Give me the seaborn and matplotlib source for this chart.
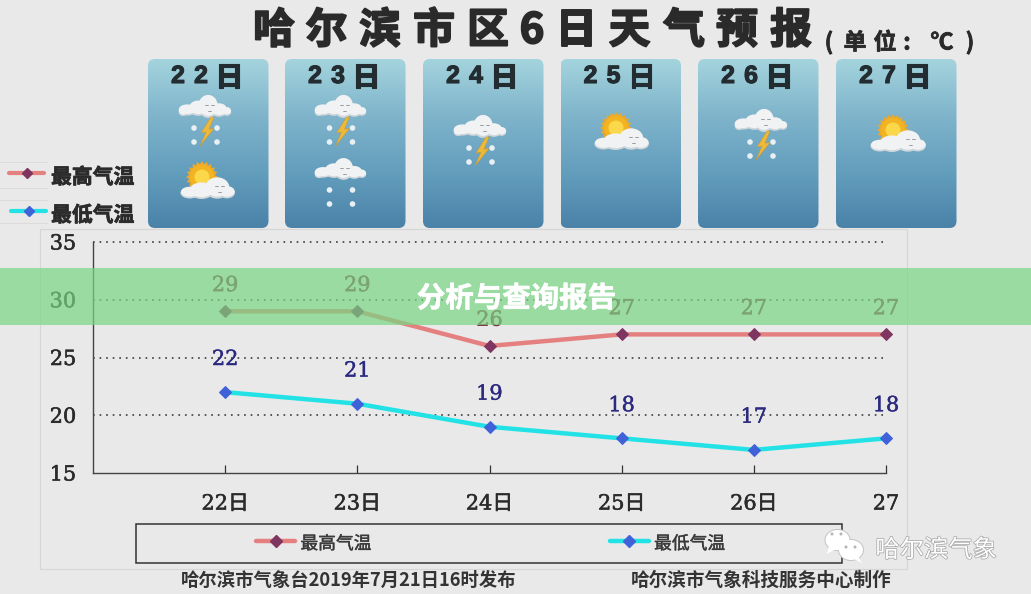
import numpy as np
import pandas as pd
import matplotlib
matplotlib.use("Agg")
import matplotlib.pyplot as plt
import seaborn as sns
from matplotlib.colors import LinearSegmentedColormap
from matplotlib.lines import Line2D
from matplotlib.patches import Circle, Ellipse, FancyBboxPatch, Polygon, Rectangle
import matplotlib.patheffects as pe

# Forecast values
day_labels = ["22日", "23日", "24日", "25日", "26日", "27"]
high_temps = [29, 29, 26, 27, 27, 27]
low_temps = [22, 21, 19, 18, 17, 18]
y_ticks = [15, 20, 25, 30, 35]
high_name = "最高气温"
low_name = "最低气温"
card_titles = ["22日", "23日", "24日", "25日", "26日", "27日"]

BG = "#e9e9e9"
HIGH_LINE, HIGH_MARK, HIGH_TEXT = "#e58080", "#7f3560", "#803040"
LOW_LINE, LOW_MARK, LOW_TEXT = "#22e2e6", "#3f62d8", "#2c2a80"
INK = "#2b2b2b"
SANS = ["Noto Sans CJK SC", "DejaVu Sans"]
SERIF = ["DejaVu Serif", "Noto Sans CJK SC"]

sns.set_theme(style="white", rc={"figure.facecolor": BG, "savefig.facecolor": BG})
plt.rcParams["font.family"] = SANS

W, H = 1031, 594
fig = plt.figure(figsize=(W / 100, H / 100), dpi=100)


def pixel_layer(z):
    layer = fig.add_axes([0, 0, 1, 1], zorder=z)
    layer.set_xlim(0, W)
    layer.set_ylim(H, 0)
    layer.axis("off")
    layer.patch.set_alpha(0)
    return layer


def thick(width, color):
    return [pe.withStroke(linewidth=width, foreground=color)]


back = pixel_layer(0)
front = pixel_layer(2)

STORM_PUFFS = [(-0.34, 0.62, 0.34, 0.55), (-0.13, 0.52, 0.36, 0.78), (0.06, 0.42, 0.38, 1.2),
               (0.27, 0.62, 0.32, 0.68), (0.42, 0.70, 0.17, 0.42), (-0.42, 0.72, 0.17, 0.40)]
SUN_PUFFS = [(-0.34, 0.72, 0.34, 0.55), (-0.12, 0.62, 0.46, 0.80), (0.17, 0.48, 0.46, 1.05),
             (0.35, 0.70, 0.30, 0.58)]


# ---- weather icons -------------------------------------------------------
def cloud(a, x0, x1, top, bottom, puffs=STORM_PUFFS, face=0.07):
    w, h = x1 - x0, bottom - top
    cx = (x0 + x1) / 2
    for dx, dy, ew, eh in puffs:
        a.add_patch(Ellipse((cx + dx * w, top + (dy + 0.03) * h), ew * w, eh * h, fc="#cfd6db", ec="none", zorder=3))
    for dx, dy, ew, eh in puffs:
        a.add_patch(Ellipse((cx + dx * w, top + (dy - 0.03) * h), ew * w * 0.95, eh * h * 0.92, fc="#f0f2f3", ec="none", zorder=3))
    fx, fy = cx + face * w, top + 0.38 * h
    a.plot([fx - 4, fx - 1], [fy, fy], color="#8a8f92", lw=0.6, zorder=4)
    a.plot([fx + 2, fx + 5], [fy, fy], color="#8a8f92", lw=0.6, zorder=4)
    a.plot([fx - 1, fx + 2], [fy + 6, fy + 6], color="#8a8f92", lw=0.6, zorder=4)


def snow_dots(a, xs, ys):
    for x in xs:
        for y in ys:
            a.add_patch(Circle((x, y), 2.8, fc="#e8f0f3", ec="none", zorder=3))


def bolt(a, cx, top, bottom):
    h = bottom - top
    pts = [(cx + 4, top), (cx - 6, top + 0.55 * h), (cx - 1, top + 0.52 * h), (cx - 7, bottom),
           (cx + 7, top + 0.40 * h), (cx + 2, top + 0.42 * h), (cx + 7, top)]
    a.add_patch(Polygon(pts, closed=True, fc="#eeb93a", ec="#c99a35", lw=0.4, zorder=4))


def storm(a, x0, x1, top):
    cx = (x0 + x1) / 2
    cloud(a, x0, x1, top, top + 19)
    bolt(a, cx + 2, top + 19, top + 48)
    snow_dots(a, [cx - 11, cx + 12], [top + 30, top + 44])


def snow(a, x0, x1, top):
    cx = (x0 + x1) / 2
    cloud(a, x0, x1, top, top + 18)
    snow_dots(a, [cx - 11, cx + 12], [top + 29, top + 43])


def sun_cloud(a, x0, x1, sx, sy):
    angles = np.linspace(0, 2 * np.pi, 41)[:-1]
    radii = np.where(np.arange(40) % 2 == 0, 16, 13)
    star = np.c_[sx + radii * np.cos(angles), sy + radii * np.sin(angles)]
    a.add_patch(Polygon(star, closed=True, fc="#eda92a", ec="none", zorder=2.6))
    a.add_patch(Circle((sx, sy), 12, fc="#f2b422", ec="none", zorder=2.7))
    a.add_patch(Circle((sx, sy), 7.5, fc="#fbd84a", ec="none", zorder=2.8))
    cloud(a, x0, x1, sy + 1, sy + 21, puffs=SUN_PUFFS, face=0.2)


# ---- gradient forecast cards --------------------------------------------
card_lefts = [148, 285, 423, 560.5, 698, 836]
card_w, card_top, card_bottom = 120.5, 59, 228
card_cmap = LinearSegmentedColormap.from_list("card", ["#a4d4dd", "#7fb4cb", "#649ebd", "#4a82a8"])
gradient = np.linspace(0, 1, 256).reshape(-1, 1)
for left, name in zip(card_lefts, card_titles):
    img = back.imshow(gradient, cmap=card_cmap, aspect="auto", zorder=1,
                      extent=(left, left + card_w, card_bottom, card_top))
    frame = FancyBboxPatch((left + 6, card_top + 6), card_w - 12, card_bottom - card_top - 12,
                           boxstyle="round,pad=6,rounding_size=7", fc="none", ec="none",
                           transform=back.transData)
    back.add_patch(frame)
    img.set_clip_path(frame)
    for off, ch in zip((30, 53, 81), name):
        is_digit = ch.isdigit()
        back.text(left + off, 76 if is_digit else 78, ch, ha="center", va="center",
                  fontsize=18 if is_digit else 20, fontweight="bold",
                  family=["Liberation Sans", "DejaVu Sans"] if is_digit else SANS,
                  color="#232c30", zorder=5, path_effects=thick(0.8, "#232c30"))
back.set_xlim(0, W)
back.set_ylim(H, 0)

storm(back, 179, 231, 98)
sun_cloud(back, 181, 235, 202, 177)
storm(back, 315, 366, 98)
snow(back, 315, 366, 161)
storm(back, 454, 506, 118)
sun_cloud(back, 595, 649, 616, 128)
storm(back, 735, 787, 112)
sun_cloud(back, 871, 926, 893, 130)

# ---- heading ------------------------------------------------------------
title_chars = "哈尔滨市区6日天气预报"
title_xs = [274, 326.5, 380, 434, 488, 532, 576, 629.5, 684, 737, 791]
for x, ch in zip(title_xs, title_chars):
    back.text(x, 31, ch, ha="center", va="center", fontsize=30, fontweight="black", color="#2a2a2a", zorder=5,
              path_effects=thick(1.4, "#2a2a2a"))
unit_chars = ["(", "单", "位", ":", "℃", ")"]
unit_xs = [829, 855, 885, 907, 942, 970]
for x, ch in zip(unit_xs, unit_chars):
    back.text(x, 43, ch, ha="center", va="center", fontsize=16.5, fontweight="bold", color="#2a2a2a", zorder=5,
              family=SANS, path_effects=thick(0.5, "#2a2a2a"))

# ---- key at the left ----------------------------------------------------
for y, x0, x1, color, mark, name in [(173, 9, 44, HIGH_LINE, HIGH_MARK, high_name),
                                     (211, 11, 46, LOW_LINE, LOW_MARK, low_name)]:
    back.add_line(Line2D([x0, x1], [y, y], color=color, lw=3, zorder=3))
    back.add_line(Line2D([(x0 + x1) / 2], [y], marker="D", ms=5.2, mfc=mark, mec=mark, zorder=4))
    back.text(51, y + 4, name, ha="left", va="center", fontsize=15, fontweight="bold", color=INK, zorder=5,
              path_effects=thick(0.5, INK))
for y, x1 in [(162, 47), (188, 47), (200, 47), (223, 47)]:
    back.plot([0, x1], [y, y], color="#dcdcdc", lw=0.7, zorder=1)

# faint panel behind the chart
back.add_patch(Rectangle((40, 229), 867, 340, fc="none", ec="#d6d6d6", lw=0.8, zorder=0.5))

# ---- temperature chart --------------------------------------------------
ax = fig.add_axes([93 / W, 1 - 473 / H, (886 - 93) / W, (473 - 242) / H], zorder=1)
ax.patch.set_alpha(0)

positions = np.arange(len(day_labels))
forecast = pd.DataFrame({"day": positions, "high": high_temps, "low": low_temps})
sns.lineplot(data=forecast, x="day", y="high", ax=ax, color=HIGH_LINE, lw=3.2, marker="D", ms=6.2,
             mfc=HIGH_MARK, mec=HIGH_MARK, clip_on=False, zorder=4, errorbar=None)
sns.lineplot(data=forecast, x="day", y="low", ax=ax, color=LOW_LINE, lw=3.2, marker="D", ms=6.2,
             mfc=LOW_MARK, mec=LOW_MARK, clip_on=False, zorder=4, errorbar=None)

ax.set_xlim(-1, len(day_labels) - 1)
ax.set_ylim(y_ticks[0], y_ticks[-1])
ax.set_xticks(positions, day_labels, family=SERIF, fontsize=15, color=INK)
ax.set_yticks(y_ticks, [str(v) for v in y_ticks], family=SERIF, fontsize=15, color=INK)
for label in ax.get_xticklabels() + ax.get_yticklabels():
    label.set_path_effects(thick(0.4, INK))
ax.set_xlabel("")
ax.set_ylabel("")
ax.tick_params(axis="x", direction="in", length=5.8, width=0.9, color="#333333", pad=15.5, bottom=True)
ax.tick_params(axis="y", length=0, pad=12)
for side in ("top", "right"):
    ax.spines[side].set_visible(False)
for side in ("left", "bottom"):
    ax.spines[side].set_color("#444444")
    ax.spines[side].set_linewidth(1.0)
for v in y_ticks[1:]:
    ax.axhline(v, color="#2e2e2e", lw=1.1, ls=(0, (1.1, 3.2)), zorder=1, clip_on=False)

for x, v in zip(positions, high_temps):
    ax.annotate(str(v), (x, v), xytext=(0, 18.5), textcoords="offset points", ha="center", va="center",
                family=SERIF, fontsize=15, color=HIGH_TEXT, zorder=5, path_effects=thick(0.3, HIGH_TEXT))
for x, v in zip(positions, low_temps):
    ax.annotate(str(v), (x, v), xytext=(0, 23.5), textcoords="offset points", ha="center", va="center",
                family=SERIF, fontsize=15, color=LOW_TEXT, zorder=5, path_effects=thick(0.3, LOW_TEXT))

# legend frame and its two entries
front.add_patch(Rectangle((135.5, 524), 706, 39, fc="none", ec="#333333", lw=1.1, zorder=2))
handles = [Line2D([], [], color=HIGH_LINE, lw=3.2, marker="D", ms=5.8, mfc=HIGH_MARK, mec=HIGH_MARK),
           Line2D([], [], color=LOW_LINE, lw=3.2, marker="D", ms=5.8, mfc=LOW_MARK, mec=LOW_MARK)]
key = front.legend(handles, [high_name, low_name], ncol=2, frameon=False, loc="center",
                   bbox_to_anchor=(490.5 / W, 1 - 542 / H), bbox_transform=fig.transFigure,
                   prop={"family": SANS, "size": 12.8}, labelcolor="#3a3a3a",
                   handlelength=2.2, handletextpad=0.3, columnspacing=13.4, borderpad=0, borderaxespad=0)
for entry in key.get_texts():
    entry.set_y(-2)
    entry.set_path_effects(thick(0.3, "#3a3a3a"))

# ---- footer -------------------------------------------------------------
front.text(348.5, 580, "哈尔滨市气象台2019年7月21日16时发布", ha="center", va="center", fontsize=13.2, fontweight="bold", color="#333333")
front.text(761, 580, "哈尔滨市气象科技服务中心制作", ha="center", va="center", fontsize=13.4, fontweight="bold", color="#333333")

# ---- banner across the chart --------------------------------------------
front.add_patch(Rectangle((0, 268), W, 57, fc="#79d683", ec="none", alpha=0.7, zorder=6))
front.text(516.5, 299, "分析与查询报告", ha="center", va="center", fontsize=20.5, fontweight="bold", color="white", zorder=7,
           path_effects=thick(0.5, "white"))

# ---- account mark -------------------------------------------------------
shade = "#c4c4c4"
for (cx, cy, w, h), tail in [((837.5, 540, 24, 20), [(829, 546), (827, 554), (836, 549)]),
                             ((851, 550, 24, 20), [(858, 556), (862, 563), (852, 558)])]:
    front.add_patch(Ellipse((cx, cy), w + 2, h + 2, fc=shade, ec="none", zorder=7))
    front.add_patch(Polygon(tail, closed=True, fc="white", ec="none", zorder=8))
    front.add_patch(Ellipse((cx, cy), w, h, fc="white", ec="none", zorder=8))
for x, y in [(832, 534), (841, 534), (846, 547), (855, 547)]:
    front.add_patch(Circle((x, y), 1.5, fc="#b5b5b5", ec="none", zorder=9))
front.text(936, 550, "哈尔滨气象", ha="center", va="center", fontsize=17.5, color="white", zorder=8,
           path_effects=thick(1.1, "#a8a8a8"))

fig.savefig("out.png", dpi=100)
